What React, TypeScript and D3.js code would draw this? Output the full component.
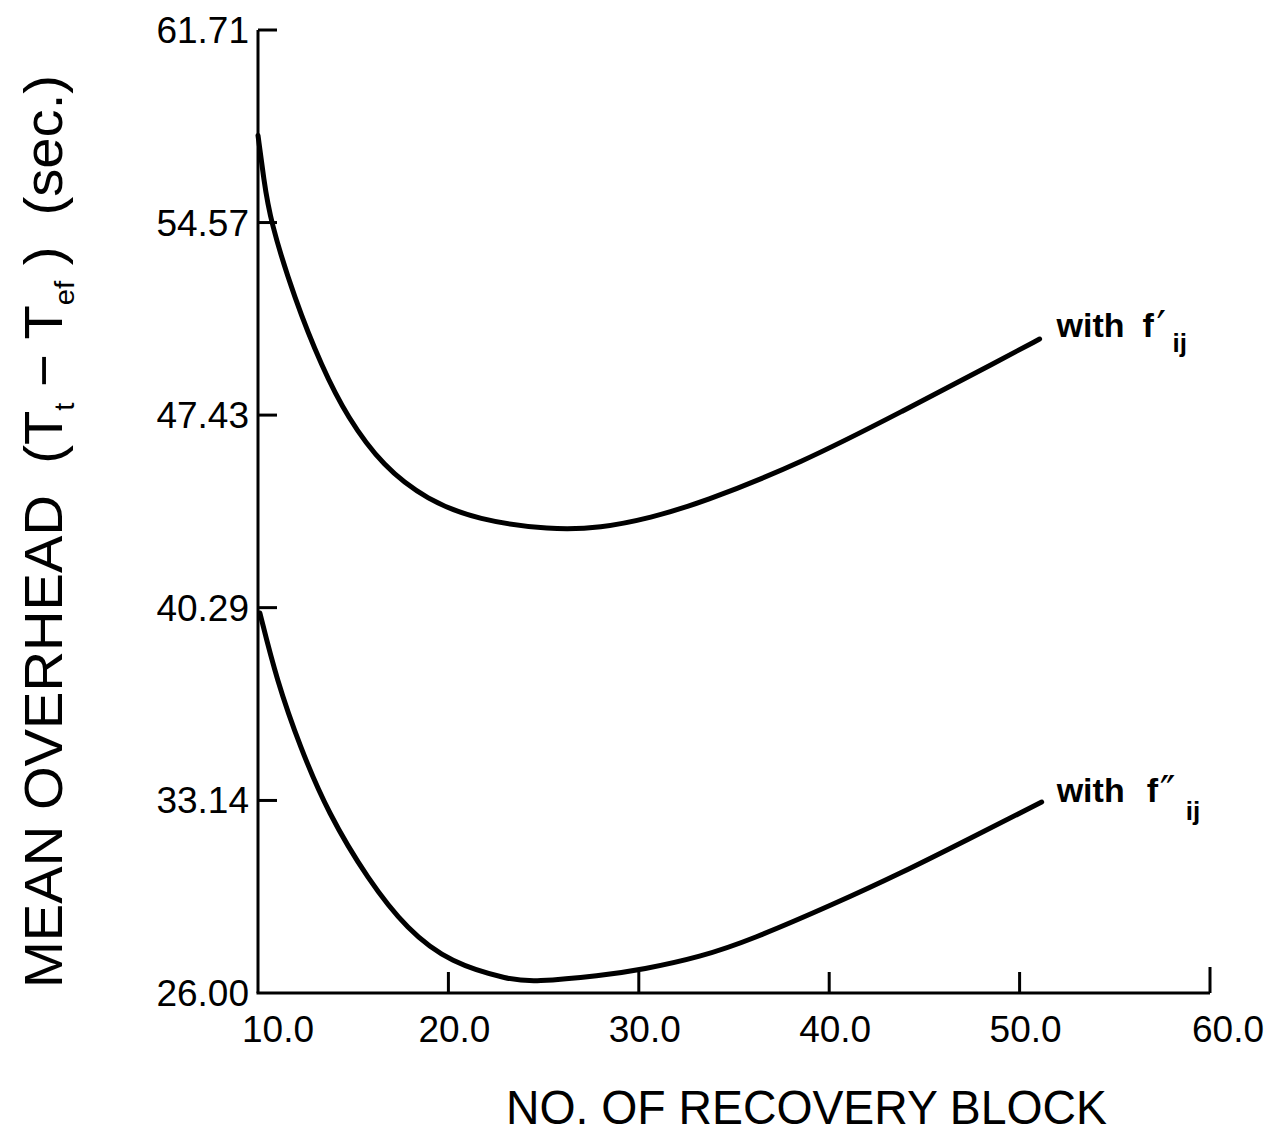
import React from "react";
import * as d3 from "d3";

const xTicks = [10, 20, 30, 40, 50, 60];
const xTickLabels = ["10.0", "20.0", "30.0", "40.0", "50.0", "60.0"];
const yTicks = [26.0, 33.14, 40.29, 47.43, 54.57, 61.71];
const yTickLabels = ["26.00", "33.14", "40.29", "47.43", "54.57", "61.71"];

// with f'ij
const upperX = [10.0, 10.3, 10.63, 11.94, 13.36, 14.68, 16.58, 18.89, 21.53, 25.37, 28.0, 30.63, 33.26, 38.53, 43.79, 49.05, 51.05];
const upperY = [57.8, 56.2, 54.66, 51.7, 49.21, 47.36, 45.51, 44.28, 43.54, 43.17, 43.24, 43.62, 44.17, 45.65, 47.55, 49.5, 50.25];
// with f''ij
const lowerX = [10.1, 10.98, 12.21, 13.68, 15.79, 17.84, 20.1, 23.26, 24.47, 28.0, 30.2, 33.26, 35.89, 40.26, 43.79, 47.3, 51.16];
const lowerY = [40.09, 37.61, 35.12, 32.67, 30.19, 28.34, 27.11, 26.48, 26.41, 26.64, 26.87, 27.34, 27.97, 29.3, 30.45, 31.7, 33.08];

const FONT = "'Liberation Sans', Arial, sans-serif";

export default function App() {
  const W = 1266, H = 1135;
  const x = d3.scaleLinear().domain([10, 60]).range([258, 1210]);
  const y = d3.scaleLinear().domain([26, 61.71]).range([993, 30]);
  const line = d3
    .line<[number, number]>()
    .x((d) => x(d[0]))
    .y((d) => y(d[1]))
    .curve(d3.curveBasis);
  const upper: [number, number][] = upperX.map((v, i) => [v, upperY[i]]);
  const lower: [number, number][] = lowerX.map((v, i) => [v, lowerY[i]]);
  const uEnd = upper[upper.length - 1];
  const lEnd = lower[lower.length - 1];
  const ux = x(uEnd[0]) + 17, uy = y(uEnd[1]) - 2;
  const lx = x(lEnd[0]) + 15, ly = y(lEnd[1]);

  return (
    <svg width={W} height={H} style={{ position: "absolute", left: 0, top: 0, background: "#fff" }} fontFamily={FONT}>
      <rect width={W} height={H} fill="#fff" />
      {/* axes */}
      <line x1={x(10)} y1={y(26)} x2={x(10)} y2={y(61.71)} stroke="#000" strokeWidth={3} />
      <line x1={x(10) - 1.5} y1={y(26)} x2={x(60)} y2={y(26)} stroke="#000" strokeWidth={3} />
      {yTicks.map((t, i) => (
        <g key={"y" + i}>
          {i > 0 && <line x1={x(10)} x2={x(10) + 19} y1={y(t)} y2={y(t)} stroke="#000" strokeWidth={3} />}
          <text x={x(10) - 9} y={y(t) + 13} fontSize={37} textAnchor="end">
            {yTickLabels[i]}
          </text>
        </g>
      ))}
      {xTicks.map((t, i) => (
        <g key={"x" + i}>
          {i > 0 && <line x1={x(t)} x2={x(t)} y1={y(26)} y2={y(26) - (i === 5 ? 26 : 21)} stroke="#000" strokeWidth={3} />}
          <text x={x(t) + (i === 0 ? 20 : i === 5 ? 18 : 6)} y={1042} fontSize={37} textAnchor="middle">
            {xTickLabels[i]}
          </text>
        </g>
      ))}
      {/* curves */}
      <path d={line(upper) || ""} fill="none" stroke="#000" strokeWidth={5} strokeLinecap="round" />
      <path d={line(lower) || ""} fill="none" stroke="#000" strokeWidth={5} strokeLinecap="round" />
      {/* curve labels */}
      <g fontWeight="bold">
        <text x={ux} y={uy} fontSize={34}>with</text>
        <text x={ux + 86} y={uy} fontSize={34}>f</text>
        <text x={ux + 100} y={uy + 4} fontSize={42} fontFamily="'DejaVu Sans', sans-serif" fontWeight="normal">′</text>
        <text x={ux + 116} y={uy + 15} fontSize={26}>ij</text>
        <text x={lx} y={ly} fontSize={34}>with</text>
        <text x={lx + 90} y={ly} fontSize={34}>f</text>
        <text x={lx + 103} y={ly + 4} fontSize={42} fontFamily="'DejaVu Sans', sans-serif" fontWeight="normal">″</text>
        <text x={lx + 129} y={ly + 18} fontSize={26}>ij</text>
      </g>
      {/* axis titles */}
      <text x={506} y={1124} fontSize={48} textLength={601} lengthAdjust="spacingAndGlyphs">
        NO. OF RECOVERY BLOCK
      </text>
      <text
        transform="translate(62,988) rotate(-90)"
        fontSize={54}
        textLength={913}
        lengthAdjust="spacingAndGlyphs"
        style={{ whiteSpace: "pre" }}
      >
        <tspan>MEAN OVERHEAD  (T</tspan>
        <tspan fontSize={28} dy={12}>t</tspan>
        <tspan dy={-12}> − T</tspan>
        <tspan fontSize={28} dy={12}>ef</tspan>
        <tspan dy={-12}> )  (sec.)</tspan>
      </text>
    </svg>
  );
}
